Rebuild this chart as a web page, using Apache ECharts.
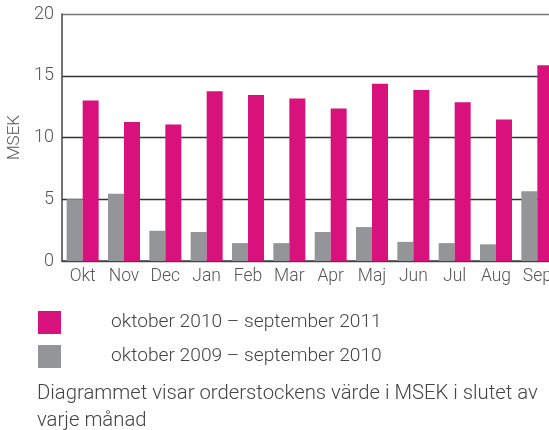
<!DOCTYPE html>
<html>
<head>
<meta charset="utf-8">
<script src="https://cdn.jsdelivr.net/npm/echarts@6/dist/echarts.min.js"></script>
<style>
html,body{margin:0;padding:0;background:#fff;}
#chart{width:549px;height:430px;}
</style>
</head>
<body>
<div id="chart"></div>
<script>
var categories = ['Okt','Nov','Dec','Jan','Feb','Mar','Apr','Maj','Jun','Jul','Aug','Sep'];
var series2011 = [13.0, 11.25, 11.05, 13.75, 13.45, 13.15, 12.35, 14.35, 13.85, 12.85, 11.45, 15.85];
var series2010 = [5.0, 5.45, 2.45, 2.35, 1.45, 1.45, 2.35, 2.75, 1.55, 1.45, 1.35, 5.65];
var name2011 = 'oktober 2010 – september 2011';
var name2010 = 'oktober 2009 – september 2010';
var yTicks = [0, 5, 10, 15, 20];

var FONT = 'Roboto';
var chart = echarts.init(document.getElementById('chart'));
chart.setOption({
  animation: false,
  backgroundColor: '#fff',
  textStyle: {fontFamily: FONT, fontWeight: 300},
  grid: {left: 62, top: 14, width: 496, height: 247, containLabel: false, outerBoundsMode: 'none'},
  title: {
    text: 'Diagrammet visar orderstockens värde i MSEK i slutet av\nvarje månad',
    left: 37, top: 380, padding: 0,
    textStyle: {fontFamily: FONT, fontWeight: 300, fontSize: 20.3, lineHeight: 27, color: '#444'}
  },
  legend: {
    orient: 'vertical', left: 38, top: 311, padding: 0,
    itemWidth: 23, itemHeight: 23, itemGap: 11,
    icon: 'rect',
    data: [name2011, name2010],
    textStyle: {fontFamily: FONT, fontWeight: 300, fontSize: 19.2, color: '#444', padding: [0, 0, 0, 45]}
  },
  xAxis: {
    type: 'category', data: categories,
    axisLine: {show: true, lineStyle: {color: '#444', width: 1.5}},
    axisTick: {show: false},
    axisLabel: {fontSize: 17.5, color: '#555', margin: 7, fontFamily: FONT, fontWeight: 300, interval: 0}
  },
  yAxis: {
    type: 'value', min: 0, max: 20, interval: 5,
    name: 'MSEK', nameLocation: 'middle', nameRotate: 90, nameGap: 35,
    nameTextStyle: {fontSize: 17, color: '#555', fontFamily: FONT, fontWeight: 300},
    axisLine: {show: true, lineStyle: {color: '#444', width: 1.5}},
    axisTick: {show: false},
    axisLabel: {fontSize: 18, color: '#555', margin: 8, fontFamily: FONT, fontWeight: 300,
      formatter: function (v) { return yTicks.indexOf(v) >= 0 ? String(v) : ''; }},
    splitLine: {show: true, lineStyle: {color: ['#444', '#333', '#333', '#333', '#777'], width: 1.3}}
  },
  series: [
    {name: name2010, type: 'bar', data: series2010, barWidth: 16, barGap: '0%',
      itemStyle: {color: '#939598'}},
    {name: name2011, type: 'bar', data: series2011, barWidth: 16, barGap: '0%',
      itemStyle: {color: '#D8117D'}}
  ]
});
</script>
</body>
</html>
